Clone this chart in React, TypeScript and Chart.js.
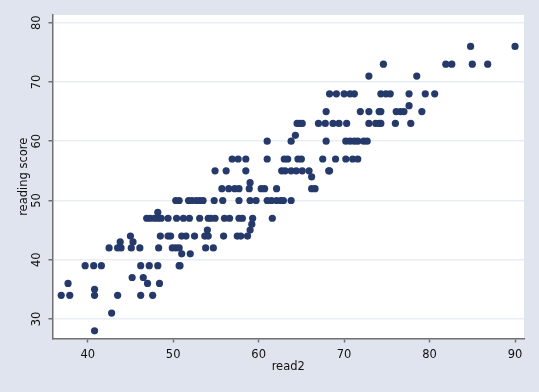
import { useEffect, useRef } from "react";
import { Chart, registerables } from "chart.js";

Chart.register(...registerables);

// reading score (y) grouped rows with read2 (x) values
const read2: number[] = [
  84.8, 90.0,
  74.6, 81.9, 82.6, 85.0, 86.8,
  72.9, 78.5,
  68.3, 69.1, 70.0, 70.7, 71.2, 74.3, 74.9, 75.4, 77.6, 79.5, 80.6,
  77.6,
  67.9, 71.9, 72.9, 74.1, 74.3, 76.1, 76.6, 77.0, 79.1,
  64.5, 64.8, 65.1, 67.0, 67.8, 68.7, 69.4, 70.3, 72.9, 73.7, 74.1, 74.3, 76.0, 77.8,
  64.3,
  61.0, 63.8, 67.9, 70.2, 70.7, 71.2, 71.6, 72.3, 72.7,
  56.9, 57.6, 58.5, 61.0, 63.0, 63.4, 64.6, 65.0, 67.5, 69.0, 70.2, 71.0, 71.6,
  54.9, 56.2, 58.5, 62.7, 63.1, 63.8, 64.4, 65.1, 65.9, 68.2, 68.3,
  66.2,
  59.0,
  55.7, 56.5, 57.2, 57.7, 58.9, 60.3, 60.7, 62.1, 66.2, 66.6,
  50.3, 50.7, 51.8, 52.2, 52.7, 53.1, 53.5, 54.8, 55.8, 57.7, 59.0, 59.7, 61.0, 61.5, 62.1, 62.6, 62.9, 63.8,
  48.2,
  46.9, 47.3, 47.8, 48.2, 48.6, 49.4, 50.4, 51.2, 51.9, 53.1, 54.1, 54.4, 54.9, 56.0, 56.6, 57.7, 58.1, 59.3, 61.6,
  59.2,
  54.0, 59.0,
  45.0, 48.5, 49.4, 49.7, 51.0, 51.5, 52.5, 53.7, 54.1, 55.9, 57.5, 57.9, 58.7,
  43.8, 45.3,
  42.5, 43.5, 43.9, 45.1, 46.1, 48.3, 49.9, 50.3, 50.7, 53.8, 54.7,
  51.0, 52.0,
  39.7, 40.7, 41.6, 46.2, 47.2, 48.2, 50.7, 50.8,
  45.2, 46.5,
  37.7, 47.0, 48.4,
  40.8,
  36.9, 37.9, 40.8, 43.5, 46.2, 47.6,
  42.8,
  40.8,
];

const read: number[] = [
  76, 76,
  73, 73, 73, 73, 73,
  71, 71,
  68, 68, 68, 68, 68, 68, 68, 68, 68, 68, 68,
  66,
  65, 65, 65, 65, 65, 65, 65, 65, 65,
  63, 63, 63, 63, 63, 63, 63, 63, 63, 63, 63, 63, 63, 63,
  61,
  60, 60, 60, 60, 60, 60, 60, 60, 60,
  57, 57, 57, 57, 57, 57, 57, 57, 57, 57, 57, 57, 57,
  55, 55, 55, 55, 55, 55, 55, 55, 55, 55, 55,
  54,
  53,
  52, 52, 52, 52, 52, 52, 52, 52, 52, 52,
  50, 50, 50, 50, 50, 50, 50, 50, 50, 50, 50, 50, 50, 50, 50, 50, 50, 50,
  48,
  47, 47, 47, 47, 47, 47, 47, 47, 47, 47, 47, 47, 47, 47, 47, 47, 47, 47, 47,
  46,
  45, 45,
  44, 44, 44, 44, 44, 44, 44, 44, 44, 44, 44, 44, 44,
  43, 43,
  42, 42, 42, 42, 42, 42, 42, 42, 42, 42, 42,
  41, 41,
  39, 39, 39, 39, 39, 39, 39, 39,
  37, 37,
  36, 36, 36,
  35,
  34, 34, 34, 34, 34, 34,
  31,
  28,
];

const xTicks = [40, 50, 60, 70, 80, 90];
const yTicks = [30, 40, 50, 60, 70, 80];

const BG = "#dfe4ee";
const GRID = "#e9eef4";
const AXIS = "#707070";
const MARK = "#25396b";
const TEXT = "#111111";
const FAMILY = "'DejaVu Sans', sans-serif";
const FONT = { family: FAMILY, size: 11.5 };

export default function App() {
  const ref = useRef<HTMLCanvasElement | null>(null);
  useEffect(() => {
    document.body.style.margin = "0";
    const canvas = ref.current;
    if (!canvas) return;
    const bgPlugin = {
      id: "bgFill",
      beforeDraw(chart: any) {
        const { ctx, chartArea } = chart;
        ctx.save();
        ctx.fillStyle = BG;
        ctx.fillRect(0, 0, chart.width, chart.height);
        ctx.fillStyle = "#ffffff";
        ctx.fillRect(chartArea.left, chartArea.top, chartArea.right - chartArea.left, chartArea.bottom - chartArea.top);
        ctx.restore();
      },
    };
    // vertical (rotated) y tick labels, positioned by the y scale
    const yLabelPlugin = {
      id: "yTickLabelsRotated",
      afterDraw(chart: any) {
        const ctx = chart.ctx;
        const yScale = chart.scales.y;
        yTicks.forEach((v) => {
          const py = yScale.getPixelForValue(v);
          ctx.save();
          ctx.fillStyle = TEXT;
          ctx.font = `${FONT.size}px ${FAMILY}`;
          ctx.textAlign = "center";
          ctx.textBaseline = "middle";
          ctx.translate(yScale.right - 15, py);
          ctx.rotate(-Math.PI / 2);
          ctx.fillText(String(v), 0, 0);
          ctx.restore();
        });
      },
    };
    const chart = new Chart(canvas, {
      type: "scatter",
      data: {
        datasets: [
          {
            data: read2.map((x, i) => ({ x, y: read[i] })),
            backgroundColor: MARK,
            borderWidth: 0,
            pointRadius: 3.6,
            pointHoverRadius: 3.6,
          },
        ],
      },
      options: {
        animation: false,
        responsive: false,
        events: [],
        layout: { padding: { left: 0, top: 15, right: 15, bottom: 0 } },
        plugins: { legend: { display: false }, tooltip: { enabled: false } },
        scales: {
          x: {
            type: "linear",
            min: 35.88,
            max: 91.05,
            afterBuildTicks: (s: any) => {
              s.ticks = xTicks.map((v) => ({ value: v }));
            },
            afterFit: (s: any) => {
              s.height = 53.5;
            },
            grid: { drawOnChartArea: false, tickLength: 4, tickColor: AXIS, tickWidth: 1.5 },
            border: { color: AXIS, width: 1.5 },
            ticks: { color: TEXT, font: FONT, padding: 6, maxRotation: 0, autoSkip: false },
            title: { display: true, text: "read2", color: TEXT, font: FONT, padding: { top: 0, bottom: 17.8 } },
          },
          y: {
            type: "linear",
            min: 26.71,
            max: 81.3,
            afterBuildTicks: (s: any) => {
              s.ticks = yTicks.map((v) => ({ value: v }));
            },
            afterFit: (s: any) => {
              s.width = 52.5;
            },
            grid: { color: GRID, lineWidth: 1.5, tickLength: 4, tickColor: AXIS, tickWidth: 1.5 },
            border: { color: AXIS, width: 1.5 },
            ticks: { display: false },
            title: { display: true, text: "reading score", color: TEXT, font: FONT, padding: { top: 17, bottom: 0 } },
          },
        },
      },
      plugins: [bgPlugin, yLabelPlugin],
    } as any);
    return () => chart.destroy();
  }, []);
  return <canvas ref={ref} width={539} height={392} style={{ display: "block" }} />;
}
